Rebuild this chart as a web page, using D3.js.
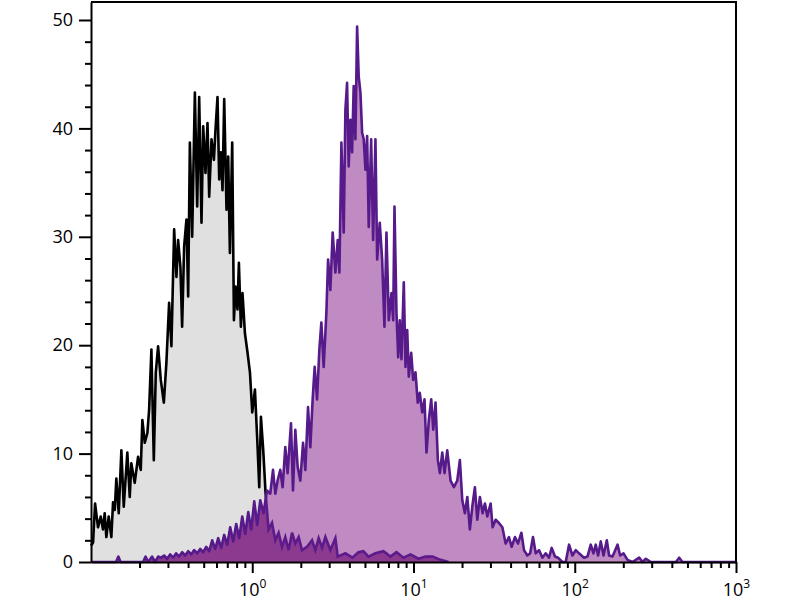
<!DOCTYPE html>
<html>
<head>
<meta charset="utf-8">
<script src="https://cdn.jsdelivr.net/npm/d3@7"></script>
<style>
  html, body { margin: 0; padding: 0; background: #fff; }
  .tick text { font-family: "Open Sans", "DejaVu Sans", sans-serif; }
</style>
</head>
<body>
<svg id="chart" width="800" height="600"></svg>
<script>
// isotype control histogram (grey)
const controlX = [0.100, 0.103, 0.106, 0.1105, 0.1149, 0.1187, 0.1216, 0.1245, 0.1288, 0.1337,
  0.1370, 0.1404, 0.1436, 0.1486, 0.1543, 0.1596, 0.1680, 0.1739, 0.1779, 0.1867,
  0.1958, 0.2035, 0.2082, 0.2155, 0.2237, 0.2292, 0.2369, 0.2452, 0.2523, 0.2607,
  0.2709, 0.2829, 0.2935, 0.3051, 0.3153, 0.3278, 0.3388, 0.3470, 0.3586, 0.3674,
  0.3781, 0.3908, 0.4005, 0.4103, 0.4240, 0.4407, 0.4555, 0.4687, 0.4844, 0.4963,
  0.5129, 0.5278, 0.5407, 0.5588, 0.5783, 0.5916, 0.6088, 0.6237, 0.6391, 0.6539,
  0.6700, 0.6924, 0.7094, 0.7268, 0.7512, 0.7697, 0.7876, 0.8099, 0.8263, 0.8503,
  0.8700, 0.9008, 0.9350, 0.9676, 1.000, 1.039, 1.074, 1.105, 1.132, 1.170,
  1.209, 1.262, 1.326, 1.390, 1.457, 1.530, 1.603, 1.681, 1.765, 1.850,
  1.940, 2.035, 2.187, 2.349, 2.462, 2.581, 2.709, 2.841, 3.051, 3.278,
  3.388, 3.781, 4.180, 4.555, 4.892, 5.254, 5.808, 6.512, 7.195, 7.842,
  8.669, 9.581, 10.74, 11.87, 13.12, 14.72, 16.50];
const controlCount = [1.5, 1.8, 5.4, 3.2, 4.2, 3.0, 4.5, 2.3, 4.2, 2.3,
  5.5, 4.8, 7.7, 4.5, 10.3, 5.1, 10.1, 6.0, 9.1, 7.3,
  9.7, 8.5, 13.1, 11.0, 11.9, 14.0, 19.6, 9.4, 17.5, 19.9,
  16.8, 14.7, 18.4, 23.9, 19.9, 30.7, 26.3, 29.7, 27.2, 21.7,
  29.1, 31.6, 24.5, 38.7, 30.0, 43.3, 32.8, 42.9, 31.3, 40.2,
  35.9, 40.5, 33.7, 39.0, 37.1, 39.9, 42.9, 35.3, 37.8, 34.3,
  42.7, 32.5, 37.4, 28.5, 38.7, 22.3, 25.4, 23.3, 27.6, 21.7,
  24.8, 21.1, 19.3, 17.5, 13.8, 15.9, 11.3, 6.9, 13.4, 10.3,
  6.4, 3.0, 3.6, 2.0, 2.7, 1.4, 2.3, 1.1, 2.7, 1.7,
  2.3, 1.1, 1.4, 2.0, 1.1, 2.2, 1.3, 2.3, 1.1, 2.2,
  0.5, 0.8, 0.4, 0.9, 1.0, 0.5, 0.8, 1.0, 0.5, 0.9,
  0.4, 0.7, 0.3, 0.5, 0.5, 0.2, 0];

// stained sample histogram (purple)
const sampleX = [0.100, 0.1430, 0.1478, 0.1525, 0.2104, 0.2180, 0.2259, 0.2392, 0.2497, 0.2607,
  0.2721, 0.2841, 0.2965, 0.3096, 0.3231, 0.3373, 0.3521, 0.3674, 0.3836, 0.4005,
  0.4180, 0.4364, 0.4555, 0.4755, 0.4963, 0.5181, 0.5407, 0.5645, 0.5891, 0.6150,
  0.6420, 0.6700, 0.6993, 0.7300, 0.7621, 0.7955, 0.8304, 0.8669, 0.9048, 0.9445,
  0.9858, 1.029, 1.074, 1.121, 1.175, 1.234, 1.293, 1.345, 1.390, 1.436,
  1.492, 1.543, 1.603, 1.657, 1.739, 1.789, 1.850, 1.912, 1.987, 2.065,
  2.134, 2.218, 2.292, 2.369, 2.438, 2.523, 2.607, 2.683, 2.773, 2.882,
  2.953, 3.051, 3.153, 3.278, 3.388, 3.471, 3.572, 3.692, 3.781, 3.873,
  3.963, 4.061, 4.161, 4.257, 4.362, 4.470, 4.573, 4.687, 4.802, 4.913,
  5.034, 5.158, 5.277, 5.462, 5.620, 5.808, 5.950, 6.176, 6.391, 6.605,
  6.797, 7.025, 7.301, 7.481, 7.622, 7.842, 8.035, 8.221, 8.423, 8.705,
  8.920, 9.140, 9.351, 9.676, 9.956, 10.29, 10.63, 10.94, 11.32, 11.70,
  12.04, 12.45, 12.88, 13.26, 13.70, 14.16, 14.57, 15.08, 15.58, 16.19,
  16.98, 17.80, 18.68, 19.39, 20.07, 20.83, 21.56, 22.37, 23.15, 24.03,
  24.87, 25.81, 26.83, 27.73, 28.70, 30.08, 30.95, 32.31, 33.88, 35.56,
  37.28, 39.08, 40.62, 42.58, 44.44, 46.67, 48.44, 50.85, 52.92, 55.08,
  57.26, 60.03, 63.01, 66.05, 69.24, 71.95, 75.43, 78.75, 83.86, 87.91,
  92.18, 96.76, 101.4, 106.3, 114.2, 119.9, 125.7, 130.6, 135.0, 139.5,
  145.0, 150.8, 158.1, 163.3, 171.5, 184.2, 191.2, 200.6, 212.4, 228.2,
  250.8, 263.3, 276.1, 296.5, 424.0, 444.4, 465.3, 1000];
const sampleCount = [0, 0, 0.5, 0, 0, 0.5, 0, 0.5, 0, 0.5,
  0.4, 0.6, 0.3, 0.7, 0.4, 0.8, 0.5, 0.9, 0.6, 1.0,
  0.7, 1.1, 0.8, 1.2, 0.9, 1.4, 1.0, 2.0, 1.2, 2.2,
  1.3, 2.5, 1.6, 3.2, 1.9, 3.5, 2.2, 4.2, 2.6, 4.6,
  3.0, 5.6, 3.4, 5.7, 4.5, 6.6, 6.3, 8.5, 6.3, 7.5,
  8.5, 6.9, 10.6, 8.2, 12.8, 6.6, 12.2, 8.8, 7.5, 11.0,
  8.5, 14.3, 10.6, 15.0, 18.0, 15.0, 19.6, 22.1, 18.0, 23.0,
  27.9, 25.1, 30.4, 26.7, 29.7, 26.7, 38.7, 30.4, 41.7, 44.2,
  36.5, 40.8, 37.8, 43.9, 39.0, 49.4, 44.8, 43.3, 39.6, 39.0,
  36.2, 39.3, 30.9, 39.0, 29.7, 39.0, 27.9, 31.3, 27.9, 21.7,
  30.4, 22.3, 24.8, 22.3, 32.8, 23.0, 18.9, 22.3, 18.7, 25.8,
  18.0, 21.4, 17.1, 19.3, 16.8, 17.5, 14.7, 15.6, 13.8, 15.0,
  10.1, 13.1, 15.0, 12.2, 14.7, 9.4, 8.2, 10.1, 8.2, 10.3,
  7.5, 6.9, 7.5, 9.4, 5.7, 4.5, 6.0, 3.0, 5.1, 6.9,
  3.9, 6.0, 4.5, 5.4, 4.2, 5.4, 3.2, 3.9, 3.6, 3.2,
  1.7, 2.3, 1.4, 2.3, 1.7, 2.7, 1.1, 0.6, 0.8, 2.3,
  0.8, 1.1, 0.4, 0.8, 0.4, 1.3, 0.5, 0.4, 0, 0,
  1.6, 0.6, 1.1, 0.8, 0.4, 0.5, 1.6, 0.8, 1.6, 0.6,
  1.9, 0.6, 2.0, 0.6, 0.5, 1.6, 0.6, 0.8, 0.2, 0,
  0.4, 0, 0.3, 0, 0, 0.4, 0, 0];

const xTicks = [1, 10, 100, 1000];
const yTicks = [0, 10, 20, 30, 40, 50];

const margin = { top: 2, right: 64, bottom: 38, left: 91 },
  width = 800, height = 600;

const svg = d3.select('#chart');

const x = d3.scaleLog()
  .domain([0.1, 1000])
  .range([margin.left, width - margin.right]);

const y = d3.scaleLinear()
  .domain([0, 51.66])
  .range([height - margin.bottom, margin.top]);

const control = controlX.map((v, i) => ({ x: v, c: controlCount[i] }));
const sample = sampleX.map((v, i) => ({ x: v, c: sampleCount[i] }));

const area = d3.area()
  .x(d => x(d.x))
  .y0(y(0))
  .y1(d => y(d.c));

const line = d3.line()
  .x(d => x(d.x))
  .y(d => y(d.c));

// grey control
svg.append('path')
  .attr('d', area(control))
  .attr('fill', '#e0e0e0');
svg.append('path')
  .attr('d', line(control))
  .attr('fill', 'none')
  .attr('stroke', '#000')
  .attr('stroke-width', 2.6)
  .attr('stroke-linejoin', 'round');

// purple sample
svg.append('path')
  .attr('d', area(sample))
  .attr('fill', '#c08ac2');

// overlap of the two histograms shows darker
svg.append('clipPath')
  .attr('id', 'sampleClip')
  .append('path')
  .attr('d', area(sample));

const overlap = svg.append('g').attr('clip-path', 'url(#sampleClip)');
overlap.append('path')
  .attr('d', area(control))
  .attr('fill', '#8c3a90');
overlap.append('path')
  .attr('d', line(control))
  .attr('fill', 'none')
  .attr('stroke', '#5c1a8a')
  .attr('stroke-width', 2.6);

svg.append('path')
  .attr('d', line(sample))
  .attr('fill', 'none')
  .attr('stroke', '#561a8a')
  .attr('stroke-width', 2.6)
  .attr('stroke-linejoin', 'round');

// frame top and right
svg.append('path')
  .attr('d', 'M' + x(0.1) + ',' + y(51.66) + 'H' + x(1000) + 'V' + y(0))
  .attr('fill', 'none')
  .attr('stroke', '#000')
  .attr('stroke-width', 2);

// y axis, minor ticks every 2
const yMinor = d3.range(0, 51, 2).filter(v => v % 10 !== 0);
svg.append('g')
  .attr('transform', 'translate(' + margin.left + ',0)')
  .call(d3.axisLeft(y).tickValues(yMinor).tickSize(6).tickSizeOuter(0).tickFormat(''))
  .call(g => g.select('.domain').remove())
  .selectAll('line').attr('stroke-width', 2);

const yAxis = svg.append('g')
  .attr('transform', 'translate(' + margin.left + ',0)')
  .call(d3.axisLeft(y).tickValues(yTicks).tickSize(12).tickSizeOuter(0).tickPadding(6));
yAxis.select('.domain').attr('stroke-width', 2);
yAxis.selectAll('line').attr('stroke-width', 2);
yAxis.selectAll('text').attr('font-size', 18).attr('fill', '#000');

// x axis, log minor ticks
const xMinor = [];
[0.1, 1, 10, 100].forEach(dec => {
  for (let k = 2; k <= 9; k++) xMinor.push(dec * k);
});
svg.append('g')
  .attr('transform', 'translate(0,' + y(0) + ')')
  .call(d3.axisBottom(x).tickValues(xMinor).tickSize(6).tickSizeOuter(0).tickFormat(''))
  .call(g => g.select('.domain').remove())
  .selectAll('line').attr('stroke-width', 2);

const xAxis = svg.append('g')
  .attr('transform', 'translate(0,' + y(0) + ')')
  .call(d3.axisBottom(x).tickValues(xTicks).tickSize(11).tickSizeOuter(0).tickFormat(''));
xAxis.select('.domain').attr('stroke-width', 2);
xAxis.selectAll('line').attr('stroke-width', 2);

xAxis.selectAll('.tick').append('text')
  .attr('y', 34)
  .attr('text-anchor', 'middle')
  .attr('fill', '#000')
  .attr('font-size', 18)
  .each(function (d) {
    const t = d3.select(this);
    t.append('tspan').text('10');
    t.append('tspan')
      .attr('font-size', 12)
      .attr('dy', -8)
      .text(Math.round(Math.log10(d)));
  });
</script>
</body>
</html>
